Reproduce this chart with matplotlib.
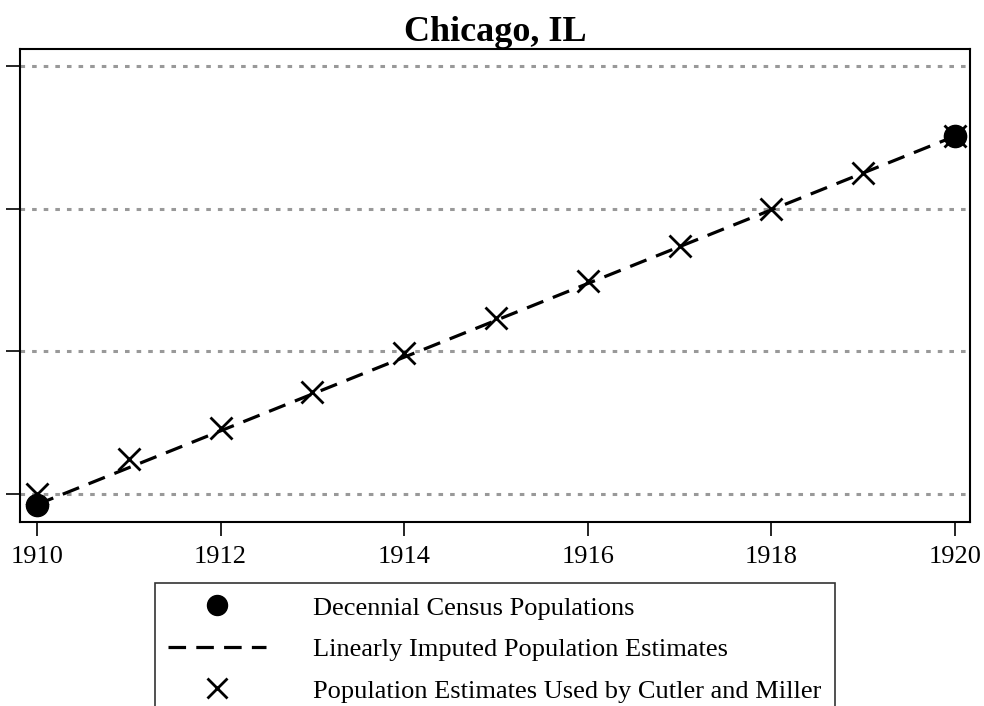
import numpy as np
import matplotlib
matplotlib.use("Agg")
import matplotlib.pyplot as plt

plt.rcParams['font.family'] = ['Liberation Serif', 'DejaVu Serif']

# data (population, millions)
census_years = [1910, 1920]
census_pop = [2.185283, 2.701705]

years = np.arange(1910, 1921)
cm_pop = [2.200, 2.249, 2.293, 2.343, 2.397, 2.447, 2.498, 2.547, 2.599, 2.650, 2.701705]

# linear interpolation between the two census counts
lin_pop = census_pop[0] + (years - 1910) / 10 * (census_pop[1] - census_pop[0])

y_ticks = [2.2, 2.4, 2.6, 2.8]
x_ticks = [1910, 1912, 1914, 1916, 1918, 1920]

fig = plt.figure(figsize=(9.84, 7.06), dpi=100)
ax = fig.add_axes([0.0203, 0.2606, 0.9655, 0.6700])

for yt in y_ticks:
    ax.axhline(yt, color='#999999', lw=2.2, ls=(0, (1.5, 2.3)), zorder=1)

h_x, = ax.plot(years, cm_pop, ls='none', marker='x', ms=16, mew=2.0, color='black', zorder=2)
h_line, = ax.plot(years, lin_pop, ls=(0, (5.5, 3.2)), lw=2.3, color='black', zorder=3)
h_dot, = ax.plot(census_years, census_pop, ls='none', marker='o', ms=16, color='black', zorder=4)

ax.set_xlim(1909.815, 1920.163)
ax.set_ylim(2.1608, 2.8238)
ax.set_xticks(x_ticks)
ax.set_yticks(y_ticks)
ax.set_yticklabels([])
ax.tick_params(axis='both', direction='out', length=10, width=1.2, labelsize=19, pad=7)
for sp in ax.spines.values():
    sp.set_linewidth(1.5)

ax.set_title('Chicago, IL', fontsize=26, fontweight='bold', pad=5)

leg = fig.legend([h_dot, h_line, h_x],
                 ['Decennial Census Populations',
                  'Linearly Imputed Population Estimates',
                  'Population Estimates Used by Cutler and Miller'],
                 loc='upper left', bbox_to_anchor=(0.1575, 0.1742),
                 borderaxespad=0, fontsize=19, handlelength=3.7, handletextpad=1.8,
                 labelspacing=0.68, borderpad=0.5, fancybox=False,
                 frameon=True, edgecolor='black', markerscale=0.9)
leg.get_frame().set_linewidth(1.2)

fig.savefig('out.png', dpi=100)
